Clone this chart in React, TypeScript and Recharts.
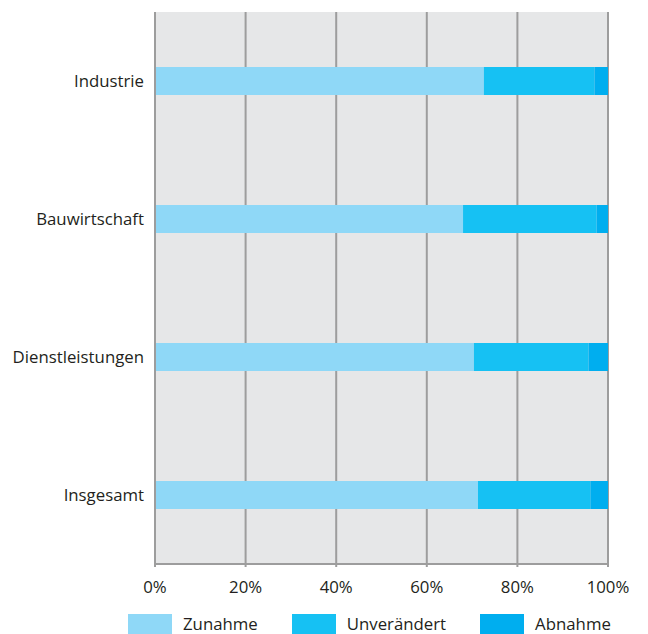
import React from 'react';
import { BarChart, Bar, XAxis, YAxis, CartesianGrid, Legend } from 'recharts';

const categories = ['Industrie', 'Bauwirtschaft', 'Dienstleistungen', 'Insgesamt'];
const zunahme = [72.6, 68.0, 70.4, 71.3];
const unveraendert = [24.4, 29.5, 25.3, 24.8];
const abnahme = [3.0, 2.5, 4.3, 3.9];
const xTicks = [0, 20, 40, 60, 80, 100];

const seriesList = [
  { key: 'zunahme', name: 'Zunahme', color: '#8fd8f7' },
  { key: 'unveraendert', name: 'Unverändert', color: '#16c1f3' },
  { key: 'abnahme', name: 'Abnahme', color: '#00aeef' },
];

const data = categories.map((name, i) => ({
  name,
  zunahme: zunahme[i],
  unveraendert: unveraendert[i],
  abnahme: abnahme[i],
}));

const FONT = '"Open Sans", "Noto Sans", sans-serif';
const TEXT = '#231f20';
const GRID = '#9d9d9d';
const FS = 16.8;

const LegendBox = () => (
  <div style={{ display: 'flex', alignItems: 'center', fontFamily: FONT, fontSize: FS, color: TEXT }}>
    {seriesList.map((s) => (
      <div key={s.key} style={{ display: 'flex', alignItems: 'center', marginRight: 34 }}>
        <div style={{ width: 44, height: 20, background: s.color, marginRight: 11 }} />
        <span>{s.name}</span>
      </div>
    ))}
  </div>
);

const App: React.FC = () => {
  return (
    <div style={{ position: 'absolute', left: 0, top: 0, width: 648, height: 634, background: '#fff' }}>
      <BarChart
        width={648}
        height={634}
        data={data}
        layout="vertical"
        barCategoryGap={0}
        margin={{ top: 12, right: 40, bottom: 30, left: 0 }}
      >
        <CartesianGrid horizontal={false} stroke={GRID} strokeWidth={2} fill="#e6e7e8" fillOpacity={1} />
        <XAxis
          type="number"
          domain={[0, 100]}
          ticks={xTicks}
          tickFormatter={(v) => `${v}%`}
          interval={0}
          height={40}
          axisLine={{ stroke: GRID, strokeWidth: 2 }}
          tickLine={{ stroke: GRID, strokeWidth: 2 }}
          tickSize={3}
          tickMargin={14}
          tick={{ fill: TEXT, fontSize: FS, fontFamily: FONT }}
        />
        <XAxis
          xAxisId="top"
          orientation="top"
          type="number"
          domain={[0, 100]}
          height={0}
          tick={false}
          tickLine={false}
          axisLine={{ stroke: GRID, strokeWidth: 2 }}
        />
        <YAxis
          type="category"
          dataKey="name"
          width={155}
          axisLine={{ stroke: GRID, strokeWidth: 2 }}
          tickLine={false}
          tickSize={0}
          tickMargin={11}
          tick={{ fill: TEXT, fontSize: FS, fontFamily: FONT }}
        />
        <Legend
          layout="horizontal"
          verticalAlign="middle"
          align="center"
          content={() => <LegendBox />}
          wrapperStyle={{ top: 612, left: 128, width: 520 }}
        />
        {seriesList.map((s) => (
          <Bar
            key={s.key}
            dataKey={s.key}
            name={s.name}
            stackId="a"
            fill={s.color}
            barSize={28}
            isAnimationActive={false}
          />
        ))}
      </BarChart>
    </div>
  );
};

export default App;
